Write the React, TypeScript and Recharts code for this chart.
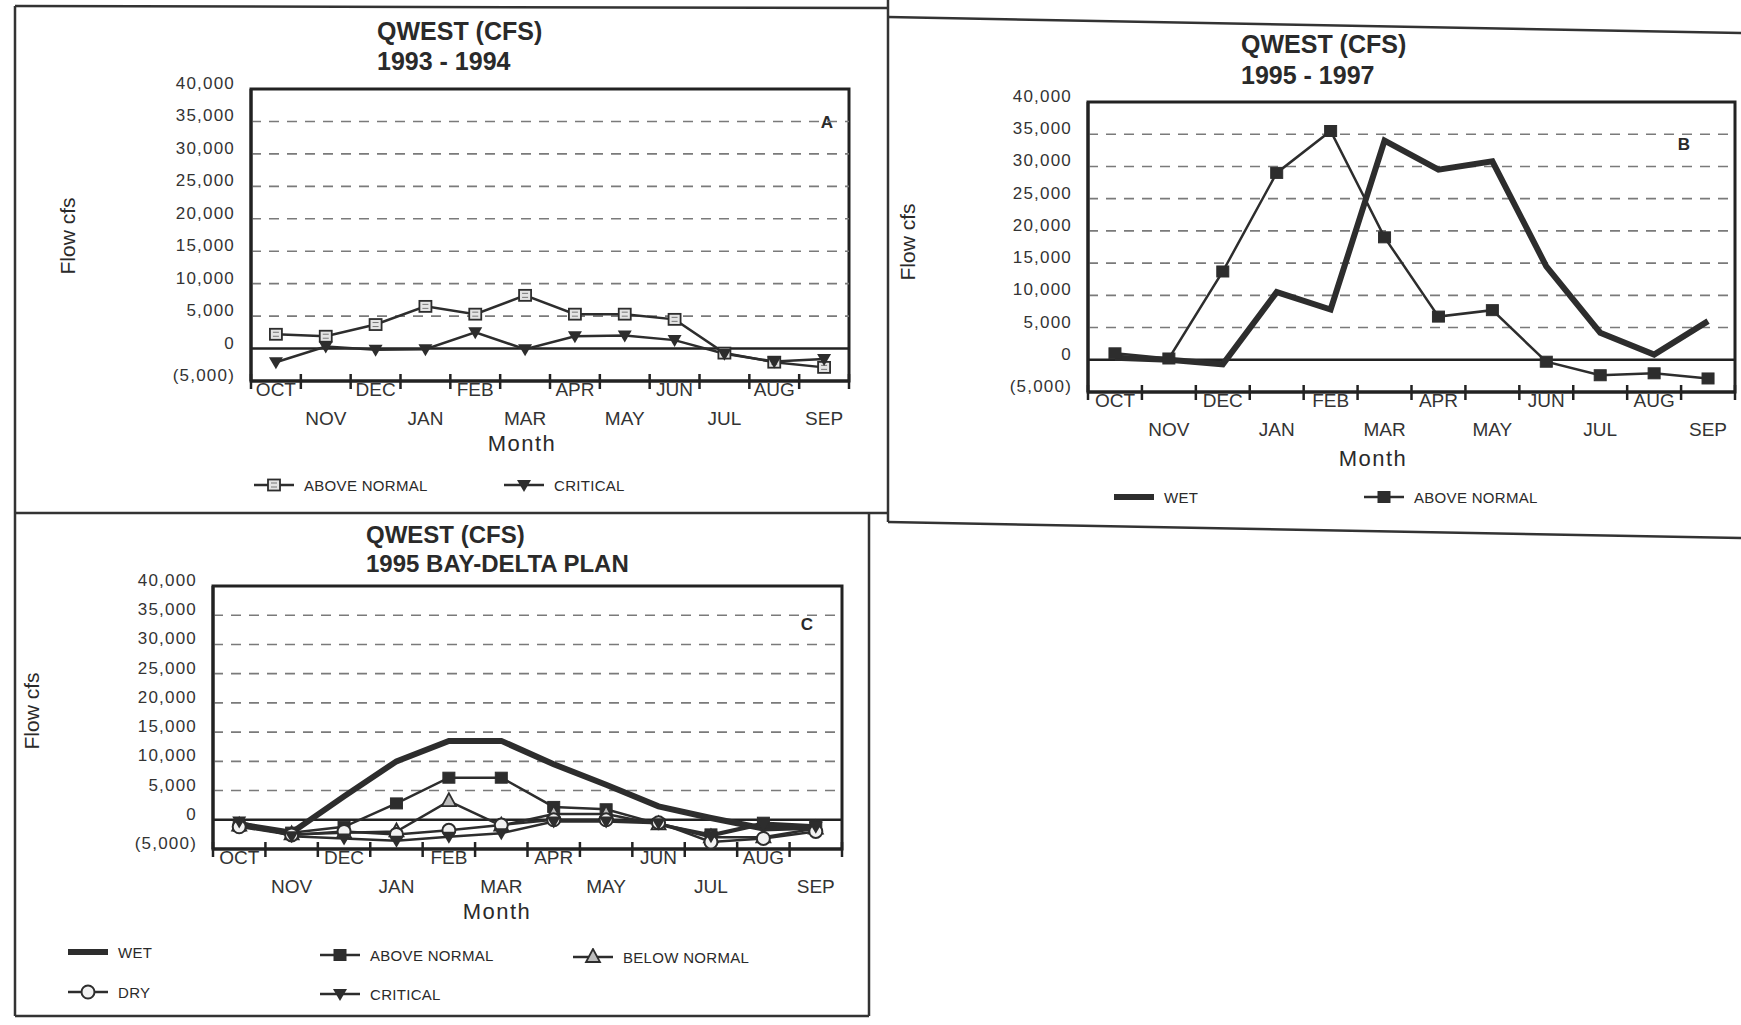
import React from 'react';
import { LineChart, Line, XAxis, YAxis, ReferenceLine, ReferenceArea } from 'recharts';

const months = ['OCT', 'NOV', 'DEC', 'JAN', 'FEB', 'MAR', 'APR', 'MAY', 'JUN', 'JUL', 'AUG', 'SEP'];
const yTicks = [-5000, 0, 5000, 10000, 15000, 20000, 25000, 30000, 35000, 40000];
const gridValues = [5000, 10000, 15000, 20000, 25000, 30000, 35000];

// A: 1993 - 1994
const aAboveNormal = [2200, 1900, 3700, 6500, 5300, 8200, 5300, 5300, 4500, -700, -2100, -2900];
const aCritical = [-2100, 300, -200, -100, 2500, -100, 1900, 2000, 1300, -800, -2000, -1600];

// B: 1995 - 1997
const bWet = [300, 0, -700, 10500, 7800, 34000, 29500, 30800, 14500, 4200, 800, 6000];
const bAboveNormal = [1000, 200, 13700, 29000, 35500, 19000, 6700, 7700, -300, -2400, -2100, -2900];

// C: 1995 Bay-Delta plan
const cWet = [-800, -2200, 4000, 10000, 13500, 13500, 9500, 6000, 2300, 300, -1500, -1200];
const cAboveNormal = [-1000, -2200, -1200, 2800, 7200, 7200, 2200, 1800, -700, -2500, -500, -1000];
const cBelowNormal = [-1000, -2500, -2200, -2000, 3200, -1000, 1000, 1000, -800, -3000, -3000, -1500];
const cDry = [-1200, -2600, -2000, -2500, -1800, -900, 0, 0, -500, -3800, -3200, -2000];
const cCritical = [-300, -2800, -3200, -3600, -2900, -2300, -300, -300, -600, -2800, -800, -1200];

const FONT = '"Liberation Sans", Arial, Helvetica, sans-serif';
const INK = '#2d2d2d';

const fmt = (v: number) => {
  const s = Math.abs(v).toString().replace(/\B(?=(\d{3})+(?!\d))/g, ',');
  return v < 0 ? `(${s})` : s;
};

type Marker = 'none' | 'squareOpen' | 'square' | 'triUp' | 'triDown' | 'circle';

function MarkerShape({ kind, cx, cy }: { kind: Marker; cx: number; cy: number }) {
  if (kind === 'squareOpen')
    return (
      <g>
        <rect x={cx - 6} y={cy - 5.5} width={12} height={11} fill="#e4e4e4" stroke={INK} strokeWidth={1.8} />
        <path d={`M${cx - 3} ${cy - 2}h6M${cx - 3} ${cy + 2}h6`} stroke="#777" strokeWidth={1} />
      </g>
    );
  if (kind === 'square')
    return <rect x={cx - 6} y={cy - 5.5} width={12} height={11} fill={INK} stroke={INK} />;
  if (kind === 'triUp')
    return (
      <polygon
        points={`${cx},${cy - 8} ${cx - 7},${cy + 5} ${cx + 7},${cy + 5}`}
        fill="#bdbdbd"
        stroke={INK}
        strokeWidth={1.8}
      />
    );
  if (kind === 'triDown')
    return <polygon points={`${cx - 7},${cy - 5} ${cx + 7},${cy - 5} ${cx},${cy + 7}`} fill={INK} />;
  if (kind === 'circle')
    return <circle cx={cx} cy={cy} r={6.5} fill="#f2f2f2" stroke={INK} strokeWidth={2} />;
  return null;
}

type Series = { key: string; width: number; marker: Marker };
type Plot = { l: number; t: number; r: number; b: number };

function MonthTick(props: any) {
  const { x, y, payload, bw } = props;
  const i = Math.round(payload.value - 0.5);
  const lower = i % 2 === 1;
  return (
    <g>
      <line x1={x - bw / 2} x2={x - bw / 2} y1={y - 7} y2={y + 8} stroke="#222" strokeWidth={2.5} />
      {i === 11 && <line x1={x + bw / 2} x2={x + bw / 2} y1={y - 7} y2={y + 8} stroke="#222" strokeWidth={2.5} />}
      <text x={x} y={y + (lower ? 44 : 15)} textAnchor="middle" fontSize={19} fill="#333" fontFamily={FONT}>
        {months[i]}
      </text>
    </g>
  );
}

function FlowTick(props: any) {
  const { x, y, payload } = props;
  return (
    <text x={x} y={y} textAnchor="end" fontSize={17} letterSpacing={1.2} fill="#333" fontFamily={FONT}>
      {fmt(payload.value)}
    </text>
  );
}

const YW = 130;
const PT = 24;
const PR = 12;
const XH = 80;

function Panel({ data, series, plot }: { data: any[]; series: Series[]; plot: Plot }) {
  const w = plot.r - plot.l;
  const bw = w / 12;
  return (
    <div style={{ position: 'absolute', left: plot.l - YW, top: plot.t - PT }}>
      <LineChart
        width={w + YW + PR}
        height={plot.b - plot.t + PT + XH}
        data={data}
        margin={{ top: PT, right: PR, left: 0, bottom: 0 }}
      >
        <XAxis
          type="number"
          dataKey="x"
          domain={[0, 12]}
          ticks={months.map((_, i) => i + 0.5)}
          interval={0}
          height={XH}
          tickLine={false}
          tickSize={0}
          tickMargin={0}
          axisLine={{ stroke: '#222', strokeWidth: 3 }}
          tick={(p: any) => <MonthTick {...p} bw={bw} />}
        />
        <YAxis
          type="number"
          domain={[-5000, 40000]}
          ticks={yTicks}
          interval={0}
          width={YW}
          tickLine={false}
          tickSize={0}
          tickMargin={16}
          axisLine={{ stroke: '#222', strokeWidth: 3 }}
          tick={(p: any) => <FlowTick {...p} />}
        />
        {gridValues.map((v) => (
          <ReferenceLine key={v} y={v} stroke="#7a7a7a" strokeWidth={1.6} strokeDasharray="10 8" />
        ))}
        <ReferenceLine y={0} stroke="#222" strokeWidth={2.5} />
        <ReferenceArea x1={0} x2={12} y1={-5000} y2={40000} fill="none" stroke="#222" strokeWidth={3} />
        {series.map((s) => (
          <Line
            key={s.key}
            type="linear"
            dataKey={s.key}
            stroke={INK}
            strokeWidth={s.width}
            isAnimationActive={false}
            activeDot={false}
            dot={
              s.marker === 'none'
                ? false
                : (p: any) => <MarkerShape key={`${s.key}-${p.index}`} kind={s.marker} cx={p.cx} cy={p.cy} />
            }
          />
        ))}
      </LineChart>
    </div>
  );
}

function Txt({ x, y, size, bold, children, anchor = 'left', spacing = 0, rotate = false }: any) {
  const tx = anchor === 'center' ? '-50%' : '0';
  return (
    <div
      style={{
        position: 'absolute',
        left: x,
        top: y,
        transform: `translate(${tx}, -50%)${rotate ? ' rotate(-90deg)' : ''}`,
        fontSize: size,
        fontWeight: bold ? 700 : 400,
        letterSpacing: spacing,
        whiteSpace: 'nowrap',
        color: '#2a2a2a',
        lineHeight: 1,
      }}
    >
      {children}
    </div>
  );
}

function LegendItem({ x, y, kind, thick, label }: { x: number; y: number; kind: Marker; thick?: boolean; label: string }) {
  return (
    <div style={{ position: 'absolute', left: x, top: y - 9, display: 'flex', alignItems: 'center', height: 18 }}>
      <svg width={44} height={18}>
        <line x1={2} x2={42} y1={9} y2={9} stroke={INK} strokeWidth={thick ? 6 : 2.5} />
        <MarkerShape kind={kind} cx={22} cy={9} />
      </svg>
      <span style={{ marginLeft: 8, fontSize: 15, letterSpacing: 0.3, color: '#2a2a2a' }}>{label}</span>
    </div>
  );
}

const rowsA = months.map((m, i) => ({ x: i + 0.5, month: m, an: aAboveNormal[i], crit: aCritical[i] }));
const rowsB = months.map((m, i) => ({ x: i + 0.5, month: m, wet: bWet[i], an: bAboveNormal[i] }));
const rowsC = months.map((m, i) => ({
  x: i + 0.5,
  month: m,
  wet: cWet[i],
  an: cAboveNormal[i],
  bn: cBelowNormal[i],
  dry: cDry[i],
  crit: cCritical[i],
}));

export default function App() {
  return (
    <div
      style={{
        position: 'absolute',
        left: 0,
        top: 0,
        width: 1741,
        height: 1025,
        background: '#fff',
        overflow: 'hidden',
        fontFamily: FONT,
      }}
    >
      <svg width={1741} height={1025} style={{ position: 'absolute', left: 0, top: 0 }}>
        <g stroke="#333" strokeWidth={2.5}>
          <line x1={15} y1={6} x2={888} y2={8} />
          <line x1={15} y1={6} x2={15} y2={1016} />
          <line x1={888} y1={0} x2={888} y2={522} />
          <line x1={15} y1={513} x2={888} y2={513} />
          <line x1={888} y1={17} x2={1741} y2={33} />
          <line x1={888} y1={522} x2={1741} y2={538} />
          <line x1={869} y1={513} x2={869} y2={1016} />
          <line x1={15} y1={1016} x2={869} y2={1016} />
        </g>
      </svg>

      {/* A */}
      <Txt x={377} y={31} size={25} bold>QWEST (CFS)</Txt>
      <Txt x={377} y={61} size={25} bold>1993 - 1994</Txt>
      <Txt x={67} y={236} size={21} anchor="center" rotate>Flow cfs</Txt>
      <Txt x={522} y={444} size={22} anchor="center" spacing={1.5}>Month</Txt>
      <Txt x={827} y={122} size={17} anchor="center" bold>A</Txt>
      <Panel
        data={rowsA}
        plot={{ l: 251, t: 89, r: 849, b: 381 }}
        series={[
          { key: 'an', width: 2.5, marker: 'squareOpen' },
          { key: 'crit', width: 2.5, marker: 'triDown' },
        ]}
      />
      <LegendItem x={252} y={485} kind="squareOpen" label="ABOVE NORMAL" />
      <LegendItem x={502} y={485} kind="triDown" label="CRITICAL" />

      {/* B */}
      <Txt x={1241} y={44} size={25} bold>QWEST (CFS)</Txt>
      <Txt x={1241} y={75} size={25} bold>1995 - 1997</Txt>
      <Txt x={907} y={242} size={21} anchor="center" rotate>Flow cfs</Txt>
      <Txt x={1373} y={459} size={22} anchor="center" spacing={1.5}>Month</Txt>
      <Txt x={1684} y={144} size={17} anchor="center" bold>B</Txt>
      <Panel
        data={rowsB}
        plot={{ l: 1088, t: 102, r: 1735, b: 392 }}
        series={[
          { key: 'wet', width: 6, marker: 'none' },
          { key: 'an', width: 2.5, marker: 'square' },
        ]}
      />
      <LegendItem x={1112} y={497} kind="none" thick label="WET" />
      <LegendItem x={1362} y={497} kind="square" label="ABOVE NORMAL" />

      {/* C */}
      <Txt x={366} y={535} size={24} bold>QWEST (CFS)</Txt>
      <Txt x={366} y={564} size={24} bold>1995 BAY-DELTA PLAN</Txt>
      <Txt x={31} y={711} size={21} anchor="center" rotate>Flow cfs</Txt>
      <Txt x={497} y={912} size={22} anchor="center" spacing={1.5}>Month</Txt>
      <Txt x={807} y={624} size={17} anchor="center" bold>C</Txt>
      <Panel
        data={rowsC}
        plot={{ l: 213, t: 586, r: 842, b: 849 }}
        series={[
          { key: 'wet', width: 6, marker: 'none' },
          { key: 'an', width: 2.5, marker: 'square' },
          { key: 'bn', width: 2.5, marker: 'triUp' },
          { key: 'dry', width: 2.5, marker: 'circle' },
          { key: 'crit', width: 2.5, marker: 'triDown' },
        ]}
      />
      <LegendItem x={66} y={952} kind="none" thick label="WET" />
      <LegendItem x={318} y={955} kind="square" label="ABOVE NORMAL" />
      <LegendItem x={571} y={957} kind="triUp" label="BELOW NORMAL" />
      <LegendItem x={66} y={992} kind="circle" label="DRY" />
      <LegendItem x={318} y={994} kind="triDown" label="CRITICAL" />
    </div>
  );
}
